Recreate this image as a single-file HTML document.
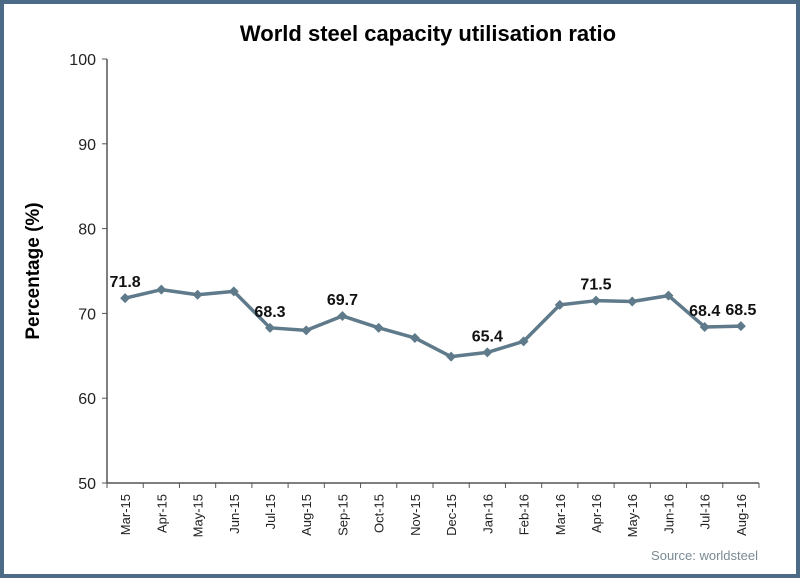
<!DOCTYPE html>
<html><head><meta charset="utf-8"><style>
html,body{margin:0;padding:0;background:#fff}
#frame{position:absolute;left:0;top:0;width:800px;height:578px;box-sizing:border-box;border:4px solid #4d6b86;background:#fff}
svg{position:absolute;left:0;top:0}
text{font-family:"Liberation Sans",Arial,sans-serif}
</style></head><body>
<div id="frame"></div>
<svg id="chart" width="800" height="578">
<text x="428" y="41" text-anchor="middle" font-size="22" font-weight="bold" fill="#000">World steel capacity utilisation ratio</text>
<text transform="translate(39,271) rotate(-90)" text-anchor="middle" font-size="19" font-weight="bold" fill="#000">Percentage (%)</text>
<text x="758" y="560" text-anchor="end" font-size="13" fill="#7a8a94">Source: worldsteel</text>
</svg>
<script>
const categories=["Mar-15","Apr-15","May-15","Jun-15","Jul-15","Aug-15","Sep-15","Oct-15","Nov-15","Dec-15","Jan-16","Feb-16","Mar-16","Apr-16","May-16","Jun-16","Jul-16","Aug-16"];
const values=[71.8,72.8,72.2,72.6,68.3,68.0,69.7,68.3,67.1,64.9,65.4,66.7,71.0,71.5,71.4,72.1,68.4,68.5];
const labelled=[0,4,6,10,13,16,17];
const yTicks=[50,60,70,80,90,100];
const NS="http://www.w3.org/2000/svg";
const svg=document.getElementById('chart');
const X0=107,X1=759,Y0=483,Y1=59,YMIN=50,YMAX=100;
const band=(X1-X0)/categories.length;
const xs=i=>X0+band*(i+0.5);
const ys=v=>Y0-(v-YMIN)/(YMAX-YMIN)*(Y0-Y1);
function mk(t,a){const e=document.createElementNS(NS,t);for(const k in a)e.setAttribute(k,a[k]);svg.appendChild(e);return e;}
let e=mk('line',{x1:X0,y1:Y1,x2:X0,y2:Y0,stroke:'#555','stroke-width':1.5});


e=mk('line',{x1:X0,y1:Y0,x2:X1,y2:Y0,stroke:'#555','stroke-width':1.5});


yTicks.forEach(t=>{
  const y=ys(t);
  let l=mk('line',{x1:X0-5,y1:y,x2:X0,y2:y,stroke:'#555','stroke-width':1});
  
  
  let tx=mk('text',{x:X0-11,y:y+6,'text-anchor':'end','font-size':16,fill:'#222'});
  tx.textContent=t;
  
  
});
for(let i=0;i<=categories.length;i++){
  const x=X0+band*i;
  let l=mk('line',{x1:x,y1:Y0,x2:x,y2:Y0+5,stroke:'#555','stroke-width':1});
  
  
}
categories.forEach((c,i)=>{
  const x=xs(i)+5,y=Y0+11;
  let tx=mk('text',{x:x,y:y,'text-anchor':'end','font-size':13,fill:'#222',transform:`rotate(-90 ${x} ${y})`});
  tx.textContent=c;
  
  
});
const pts=values.map((v,i)=>xs(i)+','+ys(v)).join(' ');
e=mk('polyline',{points:pts,fill:'none',stroke:'#5f7a8a','stroke-width':3.5,'stroke-linejoin':'round'});


values.forEach((v,i)=>{
  const x=xs(i),y=ys(v);
  let m=mk('polygon',{points:`${x},${y-5} ${x+5},${y} ${x},${y+5} ${x-5},${y}`,fill:'#5f7a8a'});
  
  
});
labelled.forEach(i=>{
  let tx=mk('text',{x:xs(i),y:ys(values[i])-11,'text-anchor':'middle','font-size':16,'font-weight':'bold',fill:'#111'});
  tx.textContent=values[i].toFixed(1);
  
  
});
</script>
</body></html>
